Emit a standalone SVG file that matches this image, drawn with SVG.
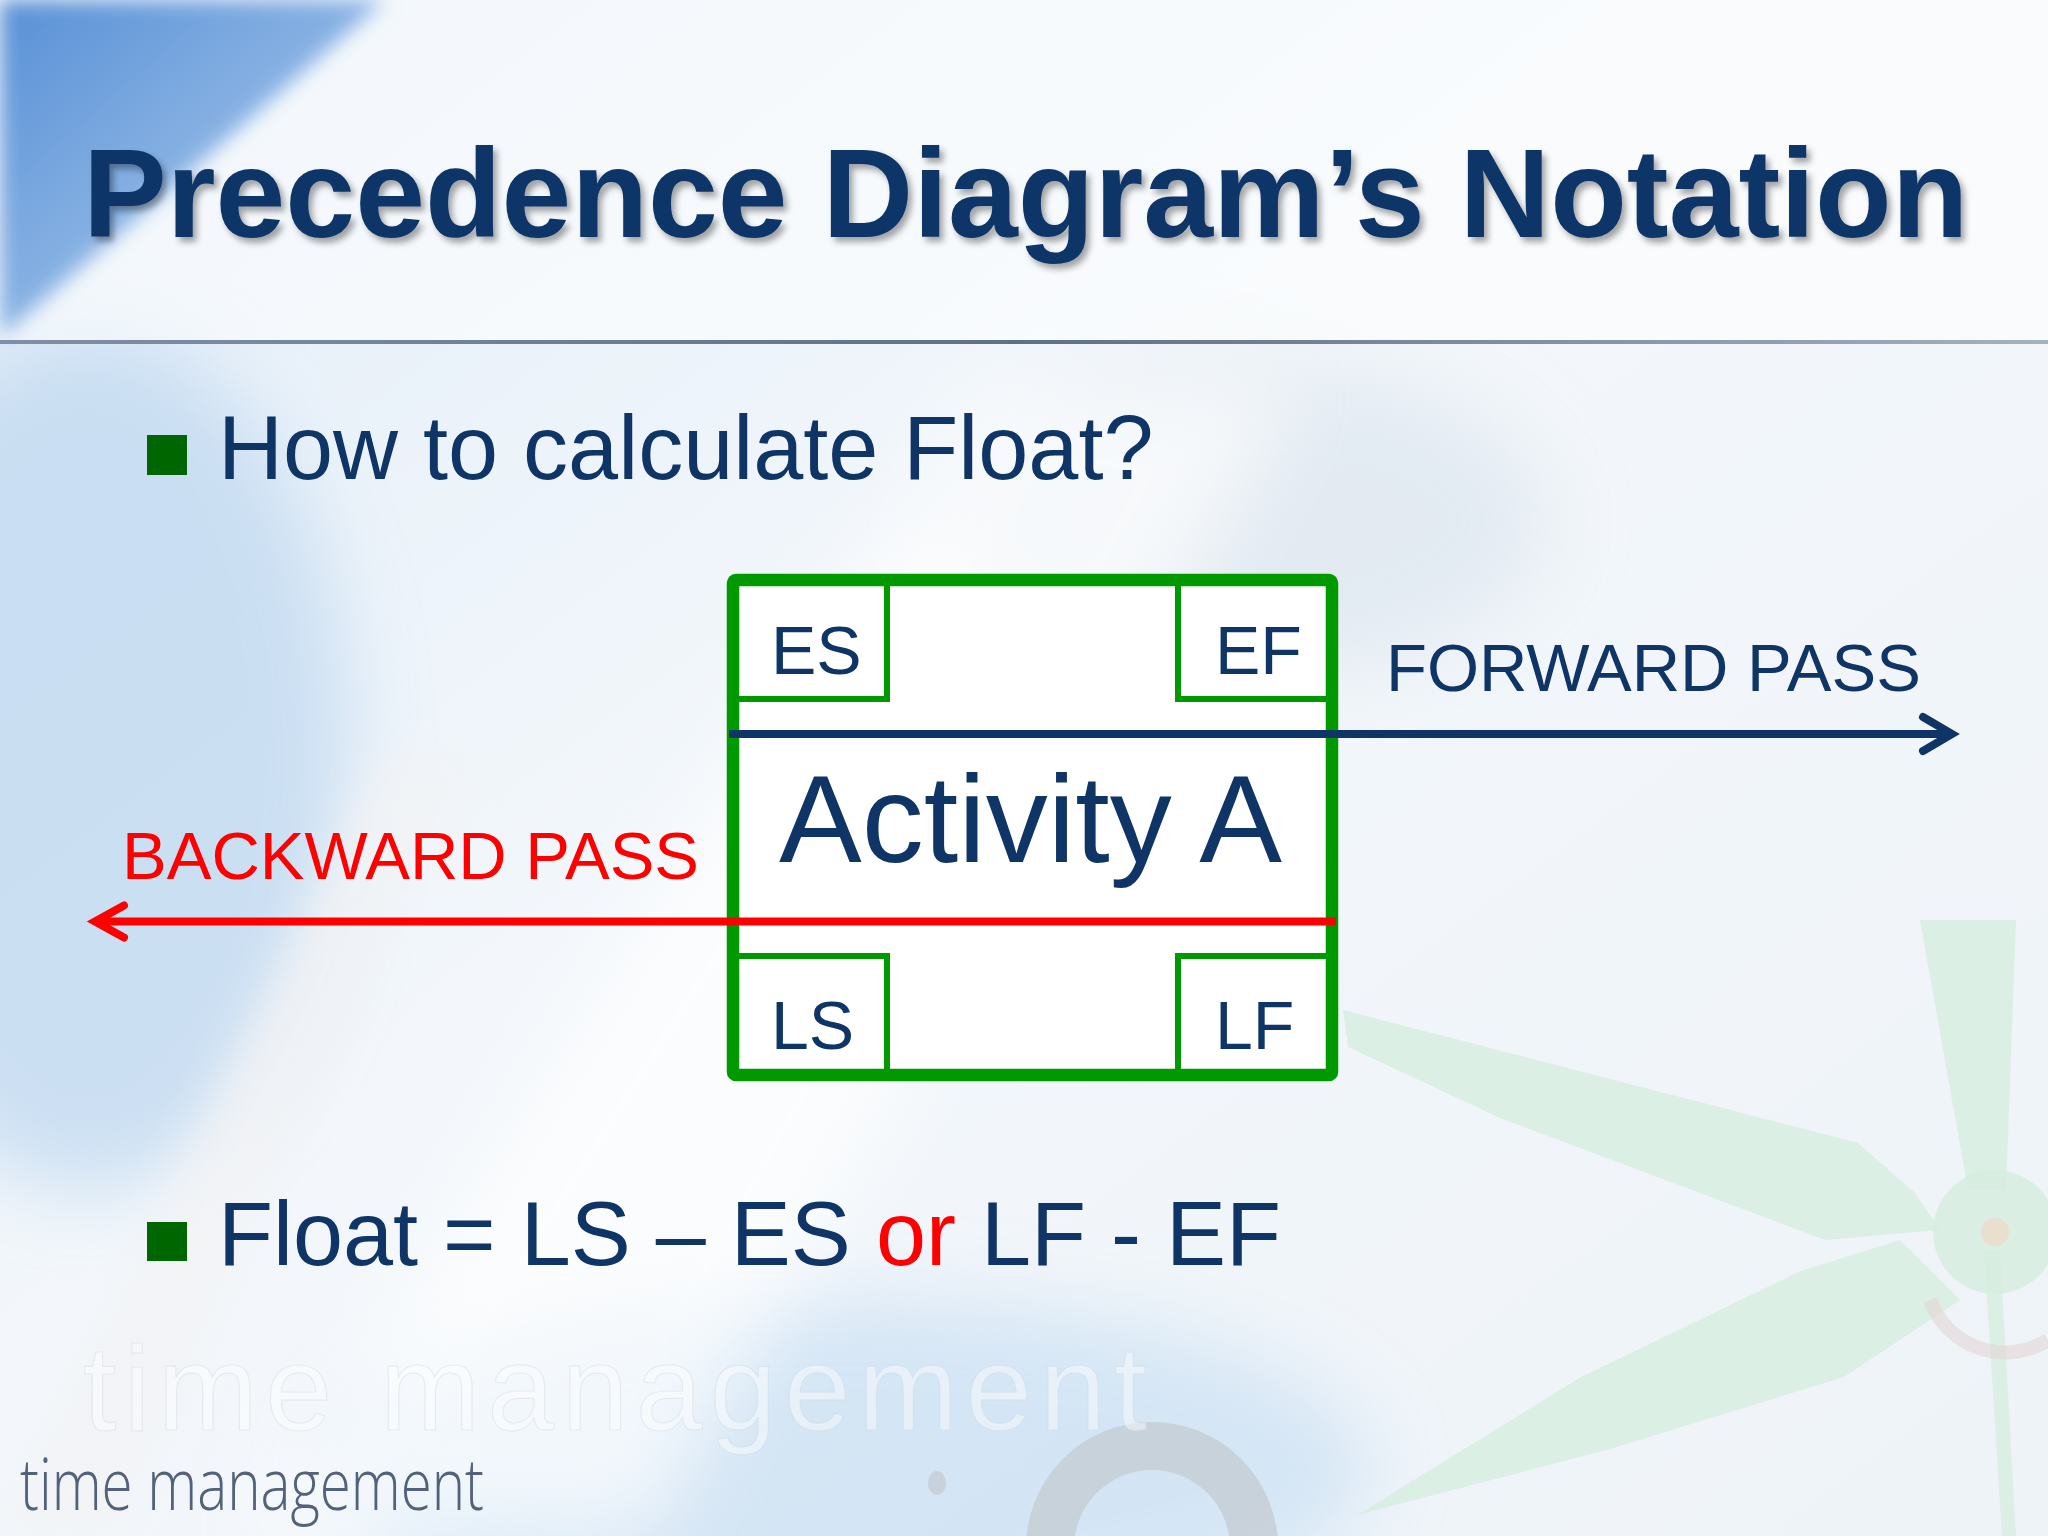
<svg xmlns="http://www.w3.org/2000/svg" width="2048" height="1536" viewBox="0 0 2048 1536">
<style>
  .navy { fill: #0f3567; font-family: "Liberation Sans", Arial, sans-serif; }
  .title { font-size: 125.5px; font-weight: bold; }
  .bullet-text { font-size: 90px; }
  .cell { font-size: 68px; }
  .act { font-size: 124px; }
  .pass { font-size: 67px; font-family: "Liberation Sans", Arial, sans-serif; }
  .bullet { fill: #006600; }
  .frame { fill: #ffffff; stroke: #009900; stroke-width: 12.5; stroke-linejoin: round; }
  .sub { fill: none; stroke: #009900; stroke-width: 6; stroke-linecap: square; }
  .fwd { stroke: #0f3567; stroke-width: 8; fill: none; }
  .bwd { stroke: #ff0000; stroke-width: 8; fill: none; }
  .hand { fill: #d3ecdc; opacity: 0.7; }
</style>
<defs>
  <linearGradient id="bg" x1="0" y1="0" x2="1" y2="1">
    <stop offset="0" stop-color="#e2edf8"/>
    <stop offset="0.45" stop-color="#f3f7fb"/>
    <stop offset="1" stop-color="#eef3f8"/>
  </linearGradient>
  <linearGradient id="corner" x1="0" y1="0" x2="1" y2="1">
    <stop offset="0" stop-color="#5890d6"/>
    <stop offset="1" stop-color="#b9d4f1"/>
  </linearGradient>
  <linearGradient id="sep" x1="0" y1="0" x2="1" y2="0">
    <stop offset="0" stop-color="#7f90a6"/>
    <stop offset="0.5" stop-color="#5f7189"/>
    <stop offset="1" stop-color="#a3b1c0"/>
  </linearGradient>
  <filter id="blur40" x="-50%" y="-50%" width="200%" height="200%"><feGaussianBlur stdDeviation="40"/></filter>
  <filter id="blur20" x="-50%" y="-50%" width="200%" height="200%"><feGaussianBlur stdDeviation="20"/></filter>
  <filter id="blur10" x="-20%" y="-20%" width="140%" height="140%"><feGaussianBlur stdDeviation="10"/></filter>
  <filter id="shadow" x="-5%" y="-20%" width="110%" height="150%">
    <feDropShadow dx="4" dy="5" stdDeviation="3" flood-color="#000000" flood-opacity="0.35"/>
  </filter>
  <marker id="arrowBlue" markerUnits="userSpaceOnUse" viewBox="-40 -25 50 50" markerWidth="50" markerHeight="50" refX="0" refY="0" orient="auto" overflow="visible">
    <path d="M-29,-17 L0,0 L-29,17" fill="none" stroke="#0f3567" stroke-width="8" stroke-linecap="round" stroke-linejoin="miter"/>
  </marker>
  <marker id="arrowRed" markerUnits="userSpaceOnUse" viewBox="-40 -25 50 50" markerWidth="50" markerHeight="50" refX="0" refY="0" orient="auto" overflow="visible">
    <path d="M-29,-16 L0,0 L-29,16" fill="none" stroke="#ff0000" stroke-width="8" stroke-linecap="round" stroke-linejoin="miter"/>
  </marker>
</defs>

<g id="background">
  <rect x="0" y="0" width="2048" height="1536" fill="url(#bg)"/>
  <ellipse cx="90" cy="760" rx="260" ry="430" fill="#bfd8f0" opacity="0.75" filter="url(#blur40)"/>
  <ellipse cx="850" cy="1470" rx="520" ry="170" fill="#cde2f4" opacity="0.8" filter="url(#blur40)"/>
  <ellipse cx="1250" cy="520" rx="300" ry="160" fill="#dde6ef" opacity="0.7" filter="url(#blur40)"/>
  <polygon points="250,1536 650,1536 1300,380 980,380" fill="#ffffff" opacity="0.7" filter="url(#blur40)"/>
  <polygon points="0,1536 110,1536 470,760 380,760" fill="#f2f3f5" opacity="0.8" filter="url(#blur20)"/>
  <rect x="0" y="0" width="2048" height="340" fill="#ffffff" opacity="0.55"/>
  <polygon points="0,0 385,0 0,338" fill="url(#corner)" filter="url(#blur10)"/>
  <rect x="0" y="340" width="2048" height="4" fill="url(#sep)"/>
  <g id="clock-hands">
    <polygon class="hand" points="1343,1010 1858,1143 1915,1193 1940,1230 1825,1240 1500,1118 1348,1047"/>
    <polygon class="hand" points="1357,1515 1581,1377 1801,1271 1900,1240 1960,1300 1844,1377 1610,1449"/>
    <polygon class="hand" points="1920,920 2016,920 2006,1190 1968,1190"/>
    <polygon class="hand" points="1984,1250 2000,1250 2016,1536 2002,1536"/>
    <circle cx="1995" cy="1232" r="62" fill="#d6ecdf" opacity="0.8"/>
    <path d="M1930,1300 A 80 80 0 0 0 2048,1340" fill="none" stroke="#e3d5d5" stroke-width="14" opacity="0.6"/>
    <circle cx="1995" cy="1232" r="14" fill="#ecdcca" opacity="0.85"/>
  </g>
  <circle cx="1152" cy="1548" r="102" fill="none" stroke="#c0c4ca" stroke-width="48" opacity="0.6"/>
  <ellipse cx="937" cy="1483" rx="9" ry="12" fill="#c3c8ce" opacity="0.65"/>
  <text x="83" y="1430" font-family="'Liberation Sans', Arial, sans-serif" font-size="120" textLength="1064" lengthAdjust="spacing" fill="#ffffff" stroke="#d3dce6" stroke-width="1.2" opacity="0.45">time management</text>
</g>

<g id="title">
  <text class="navy title" x="83" y="237" filter="url(#shadow)">Precedence Diagram’s Notation</text>
</g>

<g id="bullet1">
  <rect class="bullet" x="147" y="435" width="40" height="40"/>
  <text class="navy bullet-text" x="218" y="479">How to calculate Float?</text>
</g>

<g id="node-activity-a">
  <rect class="frame" x="733" y="580" width="599" height="495" rx="3"/>
  <path class="sub" d="M739,699 H887 V586"/>
  <path class="sub" d="M1326,699 H1178 V586"/>
  <path class="sub" d="M739,956 H887 V1069"/>
  <path class="sub" d="M1326,956 H1178 V1069"/>
  <text class="navy cell" x="771" y="674">ES</text>
  <text class="navy cell" x="1215" y="674">EF</text>
  <text class="navy act" x="779" y="862">Activity A</text>
  <text class="navy cell" x="771" y="1049">LS</text>
  <text class="navy cell" x="1215" y="1049">LF</text>
</g>

<g id="connectors">
  <line class="fwd" x1="729" y1="734" x2="1952" y2="734" marker-end="url(#arrowBlue)"/>
  <line class="bwd" x1="1336" y1="921.5" x2="95" y2="921.5" marker-end="url(#arrowRed)"/>
</g>

<g id="label-forward">
  <text class="pass" x="1386" y="691" fill="#0f3567">FORWARD PASS</text>
</g>
<g id="label-backward">
  <text class="pass" x="122" y="879" fill="#ff0000">BACKWARD PASS</text>
</g>

<g id="bullet2">
  <rect class="bullet" x="147" y="1222" width="40" height="39"/>
  <text class="navy bullet-text" x="218" y="1265">Float = LS – ES <tspan fill="#ff0000">or</tspan> LF - EF</text>
</g>

<g id="footer">
  <text x="20" y="1510" font-family="'Open Sans', 'Liberation Sans', Arial, sans-serif" font-weight="300" font-size="72" textLength="464" lengthAdjust="spacingAndGlyphs" fill="#52627a">time management</text>
</g>
</svg>
